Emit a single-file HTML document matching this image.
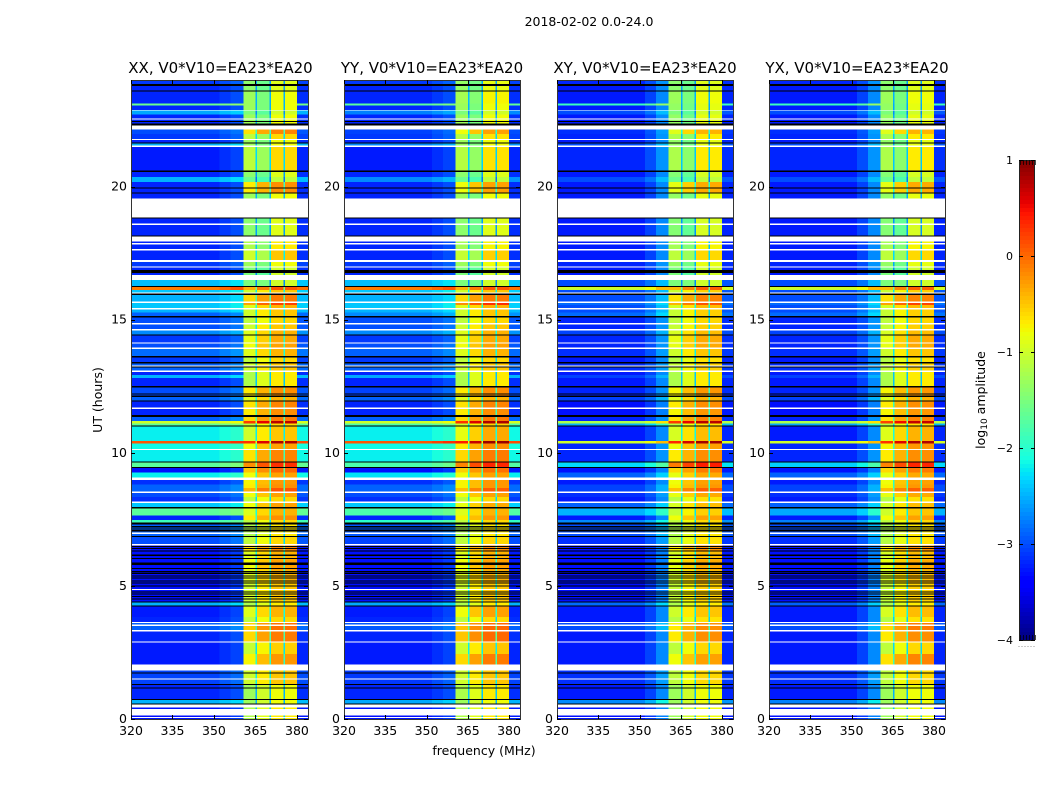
<!DOCTYPE html>
<html>
<head>
<meta charset="utf-8">
<title>2018-02-02 0.0-24.0</title>
<style>
html,body{margin:0;padding:0;background:#fff;width:1050px;height:800px;overflow:hidden}
svg{display:block}
text{font-family:"DejaVu Sans","Liberation Sans",sans-serif;fill:#000}
</style>
</head>
<body>
<svg id="figure" xmlns="http://www.w3.org/2000/svg" width="1050" height="800" viewBox="0 0 1050 800">
  <text x="589" y="26" font-size="12.5" text-anchor="middle">2018-02-02 0.0-24.0</text>
  <text x="484" y="755" font-size="12.5" text-anchor="middle">frequency (MHz)</text>
  <text transform="translate(102,400) rotate(-90)" font-size="12.5" text-anchor="middle">UT (hours)</text>
  <text transform="translate(985,400) rotate(-90)" font-size="12.5" text-anchor="middle">log<tspan font-size="9" dy="2">10</tspan><tspan dy="-2"> amplitude</tspan></text>
</svg>
<script>
/* Frequency channels (MHz): edges, which per-row level each uses, gain in dex */
const channelEdges = [320, 352, 356, 360.6, 365.1, 365.6, 370, 370.6, 375.1, 375.6, 380, 384];
const channelGroup = ['low','low','low','band','band','mid','band','band','band','band','low'];
const xxChannelGain = [0, 0.1, 0.2, -0.3, -1.5, 0.0, -1.5, 0.2, -1.5, 0.2, 0.05];
const yyChannelGain = [0, 0.1, 0.2, -0.3, -1.5, 0.0, -1.5, 0.2, -1.5, 0.2, 0.05];
const xyChannelGain = [0, 0.2, 0.55, -0.3, -1.5, 0.0, -1.5, 0.2, -1.5, 0.2, 0.05];
const yxChannelGain = [0, 0.2, 0.55, -0.3, -1.5, 0.0, -1.5, 0.2, -1.5, 0.2, 0.05];

/* Time rows: start hour of each row (the last ends at 24) */
const rowStart = [
 0,0.58,0.75,1.32,2.05,2.45,2.92,3.35,3.65,3.84,
 4.27,4.38,5.1,5.6,6.0,6.3,6.57,6.88,7.38,7.48,
 7.65,7.97,8.16,8.33,8.54,8.68,8.8,9.07,9.25,9.47,
 9.67,10.15,10.35,10.45,11.02,11.1,11.2,11.41,11.7,11.97,
 12.15,12.5,12.8,12.92,13.09,13.4,13.64,13.95,14.15,14.45,
 14.65,14.87,15.13,15.27,15.43,15.55,15.68,16.02,16.12,16.27,
 16.68,17.0,17.24,17.65,18.16,18.61,19.55,19.78,20.17,20.36,
 20.6,21.54,21.65,21.78,21.98,22.36,22.56,22.7,22.88,23.05,
 23.11,23.6,23.85];

/* Extra drop of the 365.6-370 MHz channel relative to the in-band level, per row */
const midChannelTrim = [
 0,0,0,0,0,0,0,0,0,0,
 0,0,0,0,0,0,0,0,0,0,
 0,0,0,0,0,0,0,0,0,0,
 0,0,0,0,0,0,0,0,0,0,
 0,0,0,0,0,0,0,0,0,0,
 0,0,0,0,0,0,0,0,0,-0.3,
 -0.5,-0.5,-0.5,-0.5,-0.5,-0.5,-0.5,0,-0.5,-0.5,
 -0.5,-0.5,-0.5,-0.5,0,-0.5,-0.5,-0.5,-0.5,-0.5,
 -0.5,-0.5,-0.5];

/* log10 amplitude per row, off-band and in-band, per baseline */
const xxLow = [
 -3.3,-2.5,-3.2,-3.05,-3.25,-3.25,-3.2,-2.9,-3.2,-3.25,
 -2.5,-3.3,-3.3,-3.3,-3.3,-3.3,-3.0,-2.9,-1.9,-3.2,
 -1.7,-2.4,-3.15,-3.0,-2.9,-2.9,-3.15,-2.2,-3.3,-1.7,
 -2.2,-2.15,0.1,-2.2,-1.7,-1.0,-2.9,-3.2,-3.2,-2.9,
 -3.0,-3.2,-2.5,-3.2,-2.9,-3.1,-2.85,-3.0,-3.1,-2.7,
 -3.0,-3.0,-2.9,-2.5,-2.4,-2.4,-2.5,-2.4,-0.1,-2.45,
 -3.2,-3.1,-3.2,-3.2,-3.2,-3.2,-3.2,-3.2,-2.5,-3.2,
 -3.25,-2.5,-3.2,-3.1,-3.0,-3.2,-3.2,-2.55,-3.2,-1.6,
 -3.2,-3.2,-3.1];
const xxBand = [
 -0.9,-1.0,-1.0,-0.7,-0.45,-0.75,-0.3,-0.25,-0.8,-0.6,
 -0.9,-0.7,-0.6,-0.5,-0.6,-0.35,-0.8,-0.9,-0.8,-0.4,
 -0.6,-0.5,-0.8,-0.5,-0.1,-0.4,-0.45,-0.5,-0.2,0.1,
 -0.35,-0.5,0.6,-0.7,-0.8,0.55,-0.3,-0.4,-0.35,-0.6,
 -0.4,-0.9,-0.9,-0.9,-0.7,-0.8,-0.6,-0.5,-0.55,-0.6,
 -0.7,-0.8,-0.7,-0.7,-0.6,0.0,-0.3,-0.7,-0.1,-1.2,
 -1.2,-1.0,-0.7,-0.9,-1.1,-1.1,-1.0,-0.4,-1.3,-1.1,
 -0.8,-1.0,-1.0,-0.8,-0.35,-1.0,-1.0,-1.2,-1.0,-1.0,
 -1.0,-1.1,-1.1];
const yyLow = [
 -3.3,-2.55,-3.2,-3.1,-3.25,-3.25,-3.2,-2.95,-3.2,-3.25,
 -2.55,-3.3,-3.3,-3.3,-3.3,-3.3,-3.05,-2.95,-2.0,-3.2,
 -1.8,-2.4,-3.15,-3.0,-2.9,-2.9,-3.15,-2.25,-3.3,-1.8,
 -2.2,-2.15,0.1,-2.2,-1.8,-1.0,-2.9,-3.2,-3.2,-2.9,
 -3.05,-3.2,-2.55,-3.2,-2.9,-3.1,-2.9,-3.0,-3.1,-2.7,
 -3.0,-3.0,-2.7,-2.5,-2.4,-2.4,-2.5,-2.4,-0.1,-2.45,
 -3.2,-3.1,-3.2,-3.2,-3.2,-3.2,-3.2,-3.2,-2.7,-3.2,
 -3.25,-2.7,-3.2,-3.1,-3.05,-3.2,-3.2,-2.75,-3.2,-1.7,
 -3.2,-3.2,-3.1];
const yyBand = [
 -0.9,-1.0,-0.9,-0.7,-0.3,-0.7,-0.2,-0.2,-0.8,-0.5,
 -0.9,-0.7,-0.6,-0.5,-0.6,-0.4,-0.8,-0.9,-0.8,-0.45,
 -0.6,-0.55,-0.8,-0.5,-0.15,-0.45,-0.45,-0.5,-0.25,0.15,
 -0.3,-0.4,0.7,-0.55,-0.75,0.6,-0.3,-0.4,-0.35,-0.6,
 -0.4,-0.9,-0.9,-0.9,-0.7,-0.8,-0.6,-0.5,-0.55,-0.6,
 -0.7,-0.8,-0.7,-0.7,-0.6,0.1,-0.3,-0.7,-0.1,-1.2,
 -1.2,-1.0,-0.75,-0.95,-1.1,-1.1,-1.0,-0.5,-1.3,-1.1,
 -0.85,-1.0,-1.0,-0.85,-0.5,-1.0,-1.0,-1.2,-1.0,-1.0,
 -0.95,-1.05,-1.05];
const xyLow = [
 -3.3,-2.7,-3.25,-3.15,-3.25,-3.25,-3.25,-3.0,-3.25,-3.25,
 -2.85,-3.3,-3.3,-3.3,-3.3,-3.3,-3.15,-3.0,-2.7,-3.25,
 -2.5,-2.9,-3.25,-3.15,-3.05,-3.05,-3.25,-2.9,-3.3,-2.3,
 -3.2,-3.2,-1.0,-3.25,-2.5,-1.2,-3.2,-3.3,-3.3,-3.05,
 -3.2,-3.25,-3.05,-3.25,-3.15,-3.25,-3.15,-3.2,-3.2,-3.05,
 -3.2,-3.2,-2.85,-3.0,-3.0,-2.85,-3.0,-3.0,-1.0,-3.0,
 -3.25,-3.2,-3.25,-3.25,-3.25,-3.25,-3.25,-3.25,-3.0,-3.25,
 -3.2,-3.0,-3.25,-3.2,-3.15,-3.25,-3.25,-3.0,-3.25,-1.9,
 -3.25,-3.25,-3.2];
const xyBand = [
 -1.0,-1.0,-1.0,-0.8,-0.5,-0.8,-0.4,-0.4,-0.85,-0.7,
 -0.9,-0.75,-0.65,-0.55,-0.65,-0.4,-0.85,-0.9,-0.8,-0.5,
 -0.75,-0.65,-0.85,-0.55,-0.15,-0.45,-0.5,-0.55,-0.3,0.2,
 -0.4,-0.5,0.65,-0.65,-0.85,0.55,-0.35,-0.45,-0.4,-0.6,
 -0.45,-0.9,-0.9,-0.9,-0.75,-0.85,-0.7,-0.55,-0.55,-0.65,
 -0.75,-0.8,-0.75,-0.75,-0.65,-0.1,-0.35,-0.75,-0.15,-1.2,
 -1.2,-1.05,-0.8,-0.95,-1.15,-1.15,-1.05,-0.55,-1.3,-1.15,
 -0.9,-1.05,-1.05,-0.9,-0.6,-1.05,-1.05,-1.2,-1.05,-1.05,
 -1.0,-1.1,-1.1];
const yxLow = [
 -3.3,-2.75,-3.25,-3.15,-3.25,-3.25,-3.25,-3.0,-3.25,-3.25,
 -2.9,-3.3,-3.3,-3.3,-3.3,-3.3,-3.15,-3.0,-2.75,-3.25,
 -2.55,-2.9,-3.25,-3.15,-3.05,-3.05,-3.25,-2.9,-3.3,-2.35,
 -3.2,-3.2,-1.0,-3.25,-2.55,-1.2,-3.2,-3.3,-3.3,-3.05,
 -3.2,-3.25,-3.05,-3.25,-3.15,-3.25,-3.15,-3.2,-3.2,-3.05,
 -3.2,-3.2,-2.85,-3.0,-3.0,-2.85,-3.0,-3.0,-1.0,-3.0,
 -3.25,-3.2,-3.25,-3.25,-3.25,-3.25,-3.25,-3.25,-3.0,-3.25,
 -3.2,-3.0,-3.25,-3.2,-3.15,-3.25,-3.25,-3.0,-3.25,-1.9,
 -3.25,-3.25,-3.2];
const yxBand = [
 -1.0,-1.0,-1.0,-0.8,-0.35,-0.8,-0.4,-0.3,-0.85,-0.65,
 -0.9,-0.75,-0.65,-0.55,-0.65,-0.4,-0.85,-0.9,-0.8,-0.5,
 -0.7,-0.65,-0.85,-0.55,-0.15,-0.45,-0.5,-0.55,-0.3,0.15,
 -0.4,-0.45,0.6,-0.6,-0.85,0.5,-0.35,-0.45,-0.4,-0.6,
 -0.45,-0.9,-0.9,-0.9,-0.75,-0.85,-0.7,-0.55,-0.55,-0.65,
 -0.75,-0.8,-0.75,-0.75,-0.65,0.0,-0.35,-0.75,-0.15,-1.2,
 -1.2,-1.05,-0.8,-0.95,-1.15,-1.15,-1.05,-0.55,-1.3,-1.15,
 -0.9,-1.05,-1.05,-0.9,-0.6,-1.05,-1.05,-1.2,-1.05,-1.05,
 -1.0,-1.1,-1.1];

/* Hour ranges with no data (white) and flagged data (black) */
const noDataHours = [
 [0.04,0.08],[0.13,0.38],[0.43,0.54],[1.49,1.53],[1.83,2.05],[2.87,2.92],[3.28,3.35],[3.5,3.54],[3.6,3.65],[4.84,4.88],
 [6.52,6.57],[6.95,7.0],[8.11,8.16],[8.48,8.54],[8.98,9.07],[10.1,10.15],[11.65,11.7],[13.04,13.09],[13.24,13.28],[13.9,13.95],
 [14.1,14.15],[14.6,14.65],[14.82,14.87],[15.38,15.43],[15.63,15.68],[15.98,16.02],[16.48,16.68],[16.96,17.0],[17.16,17.24],[17.6,17.65],
 [17.82,17.88],[17.94,18.12],[18.55,18.61],[18.84,19.55],[21.48,21.54],[21.74,21.78],[22.15,22.3],[22.52,22.56],[22.85,22.88]];
const flaggedHours = [
 [0.54,0.58],[0.71,0.75],[1.15,1.19],[1.28,1.32],[1.7,1.74],[4.22,4.27],[4.38,4.42],[4.48,4.52],[4.58,4.62],[4.67,4.71],
 [4.75,4.79],[4.98,5.02],[5.08,5.12],[5.17,5.21],[5.27,5.31],[5.35,5.39],[5.44,5.48],[5.51,5.55],[5.63,5.67],[5.78,5.88],
 [6.01,6.05],[6.13,6.17],[6.29,6.33],[6.38,6.42],[6.46,6.5],[6.83,6.88],[7.05,7.09],[7.12,7.16],[7.2,7.25],[7.28,7.31],
 [7.33,7.38],[7.9,7.97],[9.42,9.47],[9.63,9.67],[10.98,11.02],[11.35,11.41],[11.92,11.97],[12.1,12.15],[12.18,12.22],[12.45,12.5],
 [13.2,13.24],[13.35,13.4],[13.58,13.64],[14.4,14.45],[15.08,15.13],[15.93,15.98],[16.22,16.27],[16.76,16.86],[18.12,18.16],[18.8,18.84],
 [19.74,19.78],[19.92,19.96],[20.55,20.6],[21.62,21.65],[22.3,22.36],[22.42,22.46],[23.56,23.6],[23.78,23.85]];

const panelNames = ['xx','yy','xy','yx'];
const panelTitles = ['XX, V0*V10=EA23*EA20','YY, V0*V10=EA23*EA20','XY, V0*V10=EA23*EA20','YX, V0*V10=EA23*EA20'];
const xTickValues = [320,335,350,365,380];
const yTickValues = [0,5,10,15,20];
const colorbarTicks = [1,0,-1,-2,-3,-4];

const SVGNS = 'http://www.w3.org/2000/svg';
const svg = document.getElementById('figure');
const panelLeft = [131,344,557,769];
const panelWidth = [177,176,176,176];
const titleCenter = [220.5,432,645,857];
const PLOT_TOP = 80, PLOT_BOTTOM = 719;
const FREQ_MIN = 320, FREQ_MAX = 384, HOUR_MAX = 24;
const V_MIN = -4, V_MAX = 1;

function yScale(h){ return PLOT_BOTTOM - (h / HOUR_MAX) * (PLOT_BOTTOM - PLOT_TOP); }
function xScale(i, f){ return panelLeft[i] + (f - FREQ_MIN) / (FREQ_MAX - FREQ_MIN) * panelWidth[i]; }
function ramp(t, pts){
  for (let k = 1; k < pts.length; k++) {
    if (t <= pts[k][0]) {
      const a = pts[k-1], b = pts[k];
      return a[1] + (b[1]-a[1]) * (t-a[0]) / (b[0]-a[0]);
    }
  }
  return pts[pts.length-1][1];
}
function jet(v){
  const t = Math.max(0, Math.min(1, (v - V_MIN) / (V_MAX - V_MIN)));
  const r = ramp(t, [[0,0],[0.35,0],[0.66,1],[0.89,1],[1,0.5]]);
  const g = ramp(t, [[0,0],[0.125,0],[0.375,1],[0.64,1],[0.91,0],[1,0]]);
  const b = ramp(t, [[0,0.5],[0.11,1],[0.34,1],[0.65,0],[1,0]]);
  return 'rgb(' + Math.round(r*255) + ',' + Math.round(g*255) + ',' + Math.round(b*255) + ')';
}
function shape(tag, parent, attrs){
  const el = document.createElementNS(SVGNS, tag);
  for (const k in attrs) el.setAttribute(k, attrs[k]);
  parent.appendChild(el);
  return el;
}

const panelSeries = {
  xx: { low: xxLow, band: xxBand, gain: xxChannelGain },
  yy: { low: yyLow, band: yyBand, gain: yyChannelGain },
  xy: { low: xyLow, band: xyBand, gain: xyChannelGain },
  yx: { low: yxLow, band: yxBand, gain: yxChannelGain }
};

panelNames.forEach(function(name, i){
  const series = panelSeries[name];
  const left = panelLeft[i], right = left + panelWidth[i];
  const g = shape('g', svg, {});
  
  
  const cells = shape('g', g, {'shape-rendering':'crispEdges'});
  
  

  rowStart.forEach(function(start, r){
    const end = r + 1 < rowStart.length ? rowStart[r+1] : HOUR_MAX;
    const yTop = yScale(end), yBot = yScale(start);
    for (let c = 0; c < channelGroup.length; c++) {
      let level = series.band[r];
      if (channelGroup[c] === 'low') level = series.low[r];
      if (channelGroup[c] === 'mid') level = series.band[r] + midChannelTrim[r];
      const x0 = xScale(i, channelEdges[c]), x1 = xScale(i, channelEdges[c+1]);
      const cell = shape('rect', cells, {x:x0, y:yTop, width:x1-x0, height:yBot-yTop, fill:jet(level + series.gain[c])});
      
      
    }
  });
  noDataHours.forEach(function(span){
    const bar = shape('rect', cells, {x:left, y:yScale(span[1]), width:panelWidth[i], height:yScale(span[0])-yScale(span[1]), fill:'#fff'});
    
    
  });
  flaggedHours.forEach(function(span){
    const bar = shape('rect', cells, {x:left, y:yScale(span[1]), width:panelWidth[i], height:yScale(span[0])-yScale(span[1]), fill:'#000'});
    
    
  });

  const frame = shape('rect', g, {x:left+0.5, y:PLOT_TOP+0.5, width:panelWidth[i], height:PLOT_BOTTOM-PLOT_TOP, fill:'none', stroke:'#333', 'stroke-width':1, 'shape-rendering':'crispEdges'});
  
  

  xTickValues.forEach(function(f){
    const x = Math.round(xScale(i, f)) + 0.5;
    const t1 = shape('line', g, {x1:x, x2:x, y1:PLOT_BOTTOM, y2:PLOT_BOTTOM-4, stroke:'#000'});
    
    
    const t2 = shape('line', g, {x1:x, x2:x, y1:PLOT_TOP, y2:PLOT_TOP+4, stroke:'#000'});
    
    
    const lab = shape('text', g, {x:xScale(i, f), y:735, 'font-size':12.5, 'text-anchor':'middle'});
    
    
    lab.textContent = f;
  });
  yTickValues.forEach(function(h){
    const y = Math.round(yScale(h)) + 0.5;
    const t1 = shape('line', g, {x1:left, x2:left+4, y1:y, y2:y, stroke:'#000'});
    
    
    const t2 = shape('line', g, {x1:right, x2:right-4, y1:y, y2:y, stroke:'#000'});
    
    
    const lab = shape('text', g, {x:left-4, y:yScale(h)+4, 'font-size':12.5, 'text-anchor':'end'});
    
    
    lab.textContent = h;
  });
  const title = shape('text', g, {x:titleCenter[i], y:73, 'font-size':15, 'text-anchor':'middle'});
  
  
  title.textContent = panelTitles[i];
});

/* Colorbar */
const CB_LEFT = 1019, CB_WIDTH = 16, CB_TOP = 160, CB_BOTTOM = 640;
function cbY(v){ return CB_BOTTOM - (v - V_MIN) / (V_MAX - V_MIN) * (CB_BOTTOM - CB_TOP); }
const cb = shape('g', svg, {});


const cbCells = shape('g', cb, {'shape-rendering':'crispEdges'});


for (let k = 0; k < 120; k++) {
  const v = V_MIN + (k + 0.5) * (V_MAX - V_MIN) / 120;
  const vTop = V_MIN + (k + 1) * (V_MAX - V_MIN) / 120;
  const vBot = V_MIN + k * (V_MAX - V_MIN) / 120;
  const s = shape('rect', cbCells, {x:CB_LEFT, y:cbY(vTop), width:CB_WIDTH, height:cbY(vBot)-cbY(vTop), fill:jet(v)});
  
  
}
const cbFrameOuter = shape('rect', cb, {x:CB_LEFT+0.5, y:CB_TOP+0.5, width:CB_WIDTH-1, height:CB_BOTTOM-CB_TOP, fill:'none', stroke:'#222', 'shape-rendering':'crispEdges'});


colorbarTicks.forEach(function(v){
  const y = Math.round(cbY(v)) + 0.5;
  const l = shape('line', cb, {x1:CB_LEFT, x2:CB_LEFT+4, y1:y, y2:y, stroke:'#000'});
  
  
  const r = shape('line', cb, {x1:CB_LEFT+CB_WIDTH, x2:CB_LEFT+CB_WIDTH-4, y1:y, y2:y, stroke:'#000'});
  
  
  const lab = shape('text', cb, {x:1013, y:cbY(v)+4, 'font-size':11, 'text-anchor':'end'});
  
  
  lab.textContent = v < 0 ? '\u2212' + Math.abs(v) : String(v);
});
for (let k = 0; k < 6; k++) {
  const x = CB_LEFT + 0.5 + k * 3;
  const a = shape('line', cb, {x1:x+1, x2:x+1, y1:CB_TOP, y2:CB_TOP+5, stroke:'#000', 'stroke-opacity':0.7});
  
  
  const b = shape('line', cb, {x1:x+1, x2:x+1, y1:CB_BOTTOM, y2:CB_BOTTOM-5, stroke:'#000', 'stroke-opacity':0.7});
  
  
  const d = shape('rect', cb, {x:x-1, y:646, width:1, height:1, fill:'#999'});
  
  
}
</script>
</body>
</html>
